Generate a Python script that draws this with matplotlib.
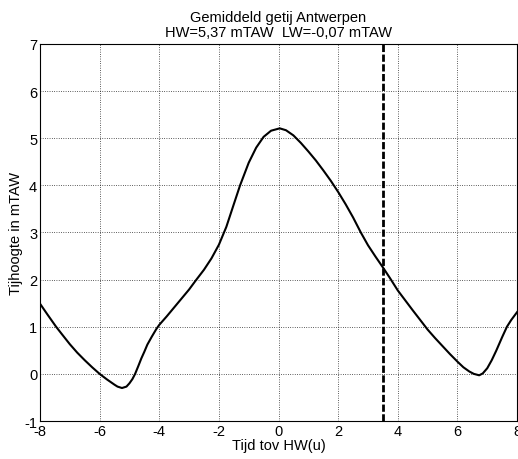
import matplotlib
matplotlib.use("Agg")
import matplotlib.pyplot as plt

# tide curve (hours relative to HW, mTAW)
tijd = [-8.0, -7.75, -7.46, -7.25, -7.0, -6.75, -6.5, -6.25, -6.0, -5.75,
        -5.5, -5.4, -5.25, -5.1, -5.0, -4.9, -4.81, -4.7, -4.6, -4.5, -4.4,
        -4.25, -4.1, -4.0, -3.75, -3.5, -3.25, -3.0, -2.79, -2.5, -2.25, -2.0,
        -1.75, -1.5, -1.29, -1.0, -0.75, -0.5, -0.25, 0.04, 0.25, 0.5, 0.75,
        1.0, 1.25, 1.5, 1.75, 2.0, 2.25, 2.5, 2.76, 3.0, 3.25, 3.5, 3.74, 4.0,
        4.25, 4.5, 4.72, 5.0, 5.25, 5.5, 5.75, 6.0, 6.2, 6.4, 6.55, 6.73, 6.85,
        7.0, 7.15, 7.3, 7.5, 7.66, 7.8, 8.0]
hoogte = [1.49, 1.26, 1.0, 0.83, 0.63, 0.45, 0.29, 0.14, 0.0, -0.12,
          -0.23, -0.27, -0.30, -0.27, -0.20, -0.11, 0.0, 0.17, 0.33, 0.47, 0.62,
          0.79, 0.95, 1.04, 1.22, 1.41, 1.6, 1.79, 1.97, 2.21, 2.45, 2.74,
          3.12, 3.6, 4.0, 4.48, 4.8, 5.03, 5.16, 5.21, 5.17, 5.06, 4.9,
          4.72, 4.53, 4.32, 4.1, 3.86, 3.6, 3.32, 3.0, 2.73, 2.49, 2.26, 2.03, 1.77,
          1.56, 1.35, 1.17, 0.94, 0.76, 0.59, 0.42, 0.26, 0.14, 0.05, 0.0, -0.03, 0.01,
          0.12, 0.29, 0.49, 0.78, 1.0, 1.14, 1.31]

lw_tijd = 3.5

plt.rcParams['font.family'] = ['Liberation Sans', 'DejaVu Sans']
plt.rcParams['font.size'] = 10.5
plt.rcParams['axes.unicode_minus'] = False

fig = plt.figure(figsize=(5.18, 4.60), dpi=100)
ax = fig.add_axes([0.0772, 0.0826, 0.921, 0.8196])

ax.plot(tijd, hoogte, color='black', lw=1.5)
ax.axvline(lw_tijd, color='black', lw=2.0, linestyle=(0, (2.6, 0.9)))

ax.set_xlim(-8, 8)
ax.set_ylim(-1, 7)
ax.set_xticks(range(-8, 9, 2))
ax.set_yticks(range(-1, 8))
ax.grid(True, color='black', linestyle=(0, (1, 2)), linewidth=0.55)
ax.tick_params(length=0, pad=2)
for s in ax.spines.values():
    s.set_linewidth(0.8)

ax.set_xlabel("Tijd tov HW(u)", labelpad=0)
ax.set_ylabel("Tijhoogte in mTAW", labelpad=1)
ax.set_title("Gemiddeld getij Antwerpen\nHW=5,37 mTAW  LW=-0,07 mTAW",
             fontsize=10.5, pad=6, linespacing=1.05)

fig.savefig("out.png", dpi=100)
